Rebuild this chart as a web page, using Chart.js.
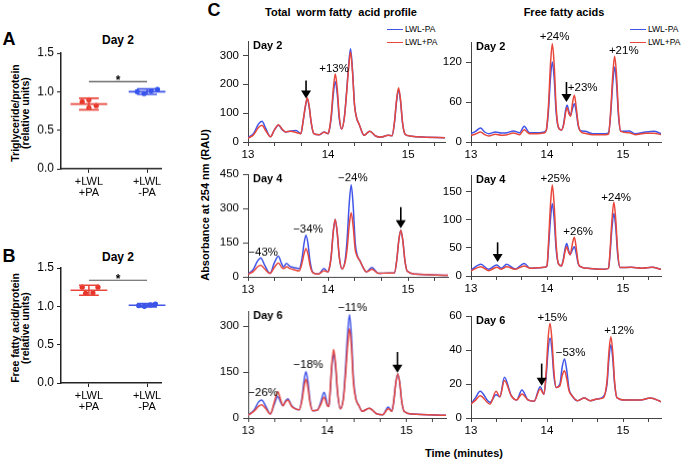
<!DOCTYPE html>
<html><head><meta charset="utf-8">
<script src="https://cdn.jsdelivr.net/npm/chart.js@4.4.1/dist/chart.umd.min.js"></script>
<style>
html,body{margin:0;padding:0;background:#fff;}
body{width:685px;height:461px;position:relative;overflow:hidden;font-family:"Liberation Sans",Arial,Helvetica,sans-serif;color:#000;}
canvas{position:absolute;}
.t{position:absolute;white-space:nowrap;transform:translate(-50%,-50%);}
.lg{position:absolute;height:0;border-top:1.5px solid;}
.lt{position:absolute;font-size:8.5px;transform:translateY(-50%);white-space:nowrap;}
</style></head><body>
<div class="t" style="left:9px;top:39px;font:bold 18px 'Liberation Sans',Arial,sans-serif">A</div>
<div class="t" style="left:9px;top:256px;font:bold 18px 'Liberation Sans',Arial,sans-serif">B</div>
<div class="t" style="left:214px;top:10px;font:bold 18px 'Liberation Sans',Arial,sans-serif">C</div>
<div class="t" style="left:118px;top:40px;font:bold 12px 'Liberation Sans',Arial,sans-serif">Day 2</div>
<div class="t" style="left:118px;top:257px;font:bold 12px 'Liberation Sans',Arial,sans-serif">Day 2</div>
<div class="t" style="left:20px;top:113px;transform:translate(-50%,-50%) rotate(-90deg);font:bold 10.5px/10px 'Liberation Sans',Arial,sans-serif;text-align:center">Triglyceride/protein<br>(relative units)</div>
<div class="t" style="left:20px;top:328px;transform:translate(-50%,-50%) rotate(-90deg);font:bold 10.5px/10px 'Liberation Sans',Arial,sans-serif;text-align:center">Free fatty acid/protein<br>(relative units)</div>
<div class="t" style="left:341px;top:12px;font:bold 11px 'Liberation Sans',Arial,sans-serif;white-space:pre">Total  worm fatty  acid profile</div>
<div class="t" style="left:564px;top:12px;font:bold 11px 'Liberation Sans',Arial,sans-serif">Free fatty acids</div>
<div class="t" style="left:205px;top:205px;transform:translate(-50%,-50%) rotate(-90deg);font:bold 11px 'Liberation Sans',Arial,sans-serif">Absorbance at 254 nm (RAU)</div>
<div class="t" style="left:464px;top:453px;font:bold 11px 'Liberation Sans',Arial,sans-serif">Time (minutes)</div>
<div class="lg" style="left:387px;top:29px;width:16px;border-color:#4055e8"></div>
<div class="lt" style="left:405px;top:29px">LWL-PA</div>
<div class="lg" style="left:387px;top:42px;width:16px;border-color:#e8473c"></div>
<div class="lt" style="left:405px;top:42px">LWL+PA</div>
<div class="lg" style="left:630px;top:29px;width:16px;border-color:#4055e8"></div>
<div class="lt" style="left:648px;top:29px">LWL-PA</div>
<div class="lg" style="left:630px;top:42px;width:16px;border-color:#e8473c"></div>
<div class="lt" style="left:648px;top:42px">LWL+PA</div>
<canvas id="cA"></canvas><canvas id="cB"></canvas>
<canvas id="c1"></canvas><canvas id="c2"></canvas><canvas id="c3"></canvas>
<canvas id="c4"></canvas><canvas id="c5"></canvas><canvas id="c6"></canvas>
<script>
// ---------- Panels A and B (relative units) ----------
const groupLabels = [['+LWL','+PA'], ['+LWL','-PA']];
const aRedVals  = [0.87, 0.895, 0.79, 0.82];
const aRedJit   = [-0.115, 0.0, 0.0, 0.126];
const aBlueVals = [1.0, 0.975, 1.01, 1.03];
const aBlueJit  = [-0.17, -0.05, 0.07, 0.18];
const aMeans = [0.84, 1.0];
const aSD    = [0.075, 0.035];
const aSig   = 1.13;
const bRedVals  = [1.25, 1.25, 1.17, 1.175];
const bRedJit   = [-0.115, 0.155, -0.057, 0.069];
const bBlueVals = [1.01, 1.0, 1.02, 1.03];
const bBlueJit  = [-0.144, -0.046, 0.057, 0.144];
const bMeans = [1.21, 1.015];
const bSD    = [0.065, 0.022];
const bSig   = 1.34;
const relTicks = [0, 0.5, 1.0, 1.5];

// ---------- Panel C chromatograms ----------
const timeTicks = [13, 13.333, 13.667, 14, 14.333, 14.667, 15, 15.333];
const timeLabels = ['13', '14', '15'];

const d2TotT = [13.00,13.07,13.13,13.175,13.22,13.28,13.33,13.38,13.43,13.47,13.53,13.60,13.66,13.69,13.715,13.74,13.765,13.79,13.82,13.89,13.95,14.00,14.015,14.04,14.065,14.09,14.115,14.14,14.17,14.205,14.23,14.255,14.28,14.305,14.33,14.355,14.39,14.45,14.52,14.60,14.66,14.75,14.80,14.83,14.855,14.88,14.905,14.93,14.96,15.02,15.18,15.46];
const d2TotB = [15,30,62,72,48,18,42,58,42,35,38,40,29,75,120,150,120,65,30,25,35,29,40,85,165,210,165,80,45,90,170,260,323,250,130,85,60,23,37,20,17,23,22,70,140,181,140,65,28,21,17,15];
const d2TotR = [13,25,50,58,40,18,42,60,43,35,37,33,29,76,122,153,122,66,30,25,34,29,42,95,183,236,183,88,45,88,165,252,312,242,128,85,60,23,37,20,17,23,22,72,146,188,146,67,28,21,17,15];

const d4TotT = [13.00,13.07,13.12,13.16,13.21,13.275,13.33,13.38,13.42,13.445,13.48,13.53,13.57,13.64,13.675,13.70,13.725,13.75,13.775,13.81,13.88,13.95,14.00,14.015,14.04,14.065,14.09,14.115,14.14,14.175,14.215,14.24,14.265,14.29,14.315,14.34,14.365,14.40,14.44,14.48,14.55,14.63,14.75,14.83,14.86,14.885,14.91,14.935,14.96,14.99,15.09,15.50];
const d4TotB = [12,35,70,83,50,15,62,90,58,44,58,45,41,36,80,145,182,145,70,20,12,36,22,35,90,195,252,195,90,35,75,170,320,403,310,150,95,70,40,22,41,15,17,17,75,160,204,160,75,25,12,7];
const d4TotR = [10,25,44,51,34,15,42,61,42,36,44,36,32,26,60,100,124,100,50,18,12,26,22,35,90,195,252,195,90,35,65,125,225,281,220,120,90,70,40,22,33,15,17,17,75,160,204,160,75,25,12,7];

const d6TotT = [13.00,13.08,13.13,13.17,13.22,13.28,13.33,13.375,13.41,13.44,13.47,13.50,13.55,13.60,13.645,13.68,13.705,13.73,13.755,13.78,13.815,13.87,13.915,13.96,14.00,14.02,14.035,14.055,14.08,14.105,14.13,14.165,14.205,14.23,14.255,14.28,14.305,14.33,14.36,14.40,14.44,14.53,14.63,14.70,14.77,14.815,14.84,14.865,14.89,14.915,14.94,14.97,15.07,15.50];
const d6TotB = [9,28,52,59,40,13,45,70,52,40,55,63,40,30,27,65,120,151,120,60,24,25,50,84,45,38,80,160,211,165,80,30,70,160,270,338,265,130,65,40,22,32,13,11,36,22,55,115,144,115,55,22,13,9];
const d6TotR = [9,24,38,43,32,13,52,86,60,40,52,59,38,30,27,58,100,127,100,52,24,25,43,68,40,38,85,170,224,175,85,30,65,140,232,292,230,115,62,40,22,32,13,11,30,22,55,115,144,115,55,22,13,9];

const d2FfaT = [13.00,13.06,13.125,13.18,13.235,13.32,13.40,13.475,13.56,13.64,13.70,13.77,13.87,13.96,13.99,14.02,14.045,14.07,14.095,14.12,14.15,14.19,14.22,14.245,14.265,14.29,14.31,14.335,14.36,14.385,14.41,14.44,14.50,14.60,14.77,14.81,14.84,14.865,14.89,14.915,14.94,14.97,15.08,15.16,15.30,15.41,15.50];
const d2FfaB = [12.5,16,21,15,12.5,15,13.5,14,16.5,14,23.5,14,14,15,17.5,48,95,120,95,45,22,18,28,48,55,45,40,50,57.5,45,25,17,16,12.5,12.5,14,45,88,112.5,88,40,16,16.5,12.5,15,16,12.5];
const d2FfaR = [10,12,15,11,9,11.5,10,11,13.5,11,18.5,12.5,12.5,13.5,17.5,56,115,147.5,115,53,22,18,26,44,51.5,42,38.5,58,70,52,27,16,13,11,11,12,50,100,128.5,100,45,16,14,11,13,13,11];

const d4FfaT = [13.00,13.13,13.23,13.34,13.40,13.47,13.58,13.70,13.78,13.89,13.97,14.00,14.02,14.045,14.07,14.095,14.12,14.15,14.19,14.215,14.24,14.26,14.285,14.305,14.335,14.36,14.385,14.41,14.44,14.54,14.72,14.81,14.83,14.855,14.88,14.905,14.93,14.96,15.11,15.25,15.38,15.50];
const d4FfaB = [10.7,20.8,12,19.6,13.6,20.8,12.5,22.5,13.6,14.8,15.4,18,50,100,129,100,48,22,18,30,50,58,45,38,47,52,40,22,16.6,13.6,12,13.6,40,86,111.5,86,38,15,15.4,13.6,15.4,12];
const d4FfaR = [9,16.6,9.5,15.4,12,16.6,12,17.8,13.6,14.8,15.4,18,60,125,162,125,58,22,18,28,45,52,42,38,58,69,50,24,16.6,13.6,12,13.6,46,100,132,100,44,15,15.4,13.6,15.4,12];

const d6FfaT = [13.00,13.06,13.12,13.25,13.33,13.38,13.44,13.53,13.60,13.67,13.75,13.83,13.91,13.96,13.99,14.015,14.04,14.065,14.09,14.12,14.17,14.20,14.23,14.26,14.29,14.33,14.40,14.49,14.57,14.66,14.74,14.79,14.815,14.84,14.865,14.89,14.92,15.03,15.23,15.36,15.50];
const d6FfaB = [8.2,12,15.7,9.2,13.7,12.5,23.9,13.1,10.6,16.5,10.6,9.8,18.4,14,25,40,47,40,25,18,20,30,34.7,28,17,13.1,10.2,11.8,10.2,11.2,12.5,20,35,43.1,35,20,12,10.6,10.6,11.8,9.6];
const d6FfaR = [8.2,10.5,13.1,8.2,15.7,12.5,22,13.1,10.6,14.1,10.6,9.8,17.1,14,28,47,55.7,46,28,18,19,25,27.8,23,16,13.1,10.2,11.8,10.2,11.2,11.8,22,39,47.8,39,21,12,10.6,10.6,11.8,9.6];

// annotations: [time, value, text]; arrows: [time, from value, to value]
const d2TotNotes = [[14.075, 255, '+13%']];
const d2TotArrow = [13.725, 213, 151];
const d4TotNotes = [[13.19, 108, '\u221243%'], [13.75, 209, '\u221234%'], [14.31, 432, '\u221224%']];
const d4TotArrow = [14.91, 305, 213];
const d6TotNotes = [[13.19, 82, '\u221226%'], [13.76, 173, '\u221218%'], [14.32, 362, '\u221211%']];
const d6TotArrow = [14.886, 216, 148];
const d2FfaNotes = [[14.10, 158, '+24%'], [14.47, 82, '+23%'], [15.01, 137, '+21%']];
const d2FfaArrow = [14.256, 90, 60];
const d4FfaNotes = [[14.11, 174, '+25%'], [14.41, 78, '+26%'], [14.91, 140, '+24%']];
const d4FfaArrow = [13.35, 60, 25];
const d6FfaNotes = [[14.07, 59, '+15%'], [14.31, 38.6, '\u221253%'], [14.95, 51, '+12%']];
const d6FfaArrow = [13.93, 32, 19];

const BLUE = '#4055e8', RED = '#e8473c';
const FAM = '"Liberation Sans", Arial, Helvetica, sans-serif';

const decor = {
  id: 'decor',
  afterDatasetsDraw(chart, args, o) {
    const {ctx, chartArea} = chart;
    const x = chart.scales.x, y = chart.scales.y;
    ctx.save();
    ctx.fillStyle = '#000';
    if (o.day) {
      ctx.font = 'bold 11px ' + FAM;
      ctx.textAlign = 'left'; ctx.textBaseline = 'middle';
      ctx.fillText(o.day, chartArea.left + 5, chartArea.top + 5);
    }
    (o.notes || []).forEach(([t, v, s]) => {
      ctx.font = '11.5px ' + FAM;
      ctx.textAlign = 'center'; ctx.textBaseline = 'middle';
      ctx.fillText(s, x.getPixelForValue(t), y.getPixelForValue(v));
    });
    if (o.arrow) {
      const [t, v1, v2] = o.arrow;
      const px = x.getPixelForValue(t), y1 = y.getPixelForValue(v1), y2 = y.getPixelForValue(v2);
      ctx.strokeStyle = '#000'; ctx.lineWidth = 1.6;
      ctx.beginPath(); ctx.moveTo(px, y1); ctx.lineTo(px, y2 - 6); ctx.stroke();
      ctx.beginPath(); ctx.moveTo(px - 5, y2 - 8); ctx.lineTo(px + 5, y2 - 8); ctx.lineTo(px, y2); ctx.closePath(); ctx.fill();
    }
    if (o.means) {
      const cols = [RED, BLUE];
      o.means.forEach((m, i) => {
        const cx = x.getPixelForValue(i);
        const w = x.getPixelForValue(i + 0.316) - cx, c = x.getPixelForValue(i + 0.17) - cx;
        const ym = y.getPixelForValue(m), yt = y.getPixelForValue(m + o.sd[i]), yb = y.getPixelForValue(m - o.sd[i]);
        ctx.strokeStyle = cols[i]; ctx.lineWidth = 1.6;
        ctx.beginPath();
        ctx.moveTo(cx - w, ym); ctx.lineTo(cx + w, ym);
        ctx.moveTo(cx, yt); ctx.lineTo(cx, yb);
        ctx.moveTo(cx - c, yt); ctx.lineTo(cx + c, yt);
        ctx.moveTo(cx - c, yb); ctx.lineTo(cx + c, yb);
        ctx.stroke();
      });
      const ys = y.getPixelForValue(o.sig);
      ctx.strokeStyle = '#555'; ctx.lineWidth = 1.2;
      ctx.beginPath(); ctx.moveTo(x.getPixelForValue(0), ys); ctx.lineTo(x.getPixelForValue(1), ys); ctx.stroke();
      ctx.font = 'bold 12px ' + FAM; ctx.textAlign = 'center'; ctx.textBaseline = 'middle';
      ctx.fillText('*', x.getPixelForValue(0.5), ys - 1);
    }
    ctx.restore();
  }
};

function place(cv, l, t, w, h) {
  cv.width = w; cv.height = h;
  cv.style.left = l + 'px'; cv.style.top = t + 'px';
  cv.style.width = w + 'px'; cv.style.height = h + 'px';
}

function chrom(id, area, times, blue, red, yMax, yStep, tMax, notes, arrow, day) {
  const PL = 45, PT = 16, PR = 12, PB = 26;
  const cv = document.getElementById(id);
  place(cv, area.l - PL, area.t - PT, area.r - area.l + PL + PR, area.b - area.t + PT + PB);
  const ds = (vals, col, lab, ord) => ({
    label: lab, data: times.map((t, i) => ({x: t, y: vals[i]})),
    borderColor: col, borderWidth: 1.5, pointRadius: 0, fill: false,
    cubicInterpolationMode: 'monotone', order: ord
  });
  new Chart(cv, {
    type: 'line',
    data: {datasets: [ds(blue, BLUE, 'LWL-PA', 1), ds(red, RED, 'LWL+PA', 0)]},
    options: {
      responsive: false, animation: false, devicePixelRatio: 1,
      layout: {padding: {top: PT, right: PR, left: 0, bottom: 0}},
      plugins: {legend: {display: false}, tooltip: {enabled: false}, decor: {notes, arrow, day}},
      scales: {
        x: {
          type: 'linear', min: 13, max: tMax,
          afterFit: s => { s.height = PB; },
          afterBuildTicks: s => { s.ticks = timeTicks.map(v => ({value: v})); },
          ticks: {autoSkip: false, maxRotation: 0, padding: 2, color: '#000', font: {size: 11.5, family: FAM},
            callback: v => { const r = Math.round(v); return (Math.abs(v - r) < 1e-6 && timeLabels.includes(String(r))) ? String(r) : ''; }},
          grid: {display: true, drawOnChartArea: false, drawTicks: true, tickLength: 4, tickColor: '#444'},
          border: {display: true, color: '#444', width: 1}
        },
        y: {
          min: 0, max: yMax,
          afterFit: s => { s.width = PL; },
          ticks: {stepSize: yStep, includeBounds: false, padding: 4, color: '#000', font: {size: 11.5, family: FAM}},
          grid: {display: true, drawOnChartArea: false, drawTicks: true, tickLength: 5, tickColor: '#444'},
          border: {display: true, color: '#444', width: 1}
        }
      }
    },
    plugins: [decor]
  });
}

function dots(id, area, redV, redJ, blueV, blueJ, means, sd, sig) {
  const PL = 41, PT = 14, PR = 8, PB = 40;
  const cv = document.getElementById(id);
  place(cv, area.l - PL, area.t - PT, area.r - area.l + PL + PR, area.b - area.t + PT + PB);
  new Chart(cv, {
    type: 'scatter',
    data: {datasets: [
      {data: redV.map((v, i) => ({x: 0 + redJ[i], y: v})), backgroundColor: '#e8362b', borderColor: '#e8362b', pointRadius: 2.6, borderWidth: 0},
      {data: blueV.map((v, i) => ({x: 1 + blueJ[i], y: v})), backgroundColor: '#2b54f0', borderColor: '#2b54f0', pointRadius: 2.6, borderWidth: 0}
    ]},
    options: {
      responsive: false, animation: false, devicePixelRatio: 1,
      layout: {padding: {top: PT, right: PR, left: 0, bottom: 0}},
      plugins: {legend: {display: false}, tooltip: {enabled: false}, decor: {means, sd, sig}},
      scales: {
        x: {
          type: 'linear', min: -0.48, max: 1.24,
          afterFit: s => { s.height = PB; },
          afterBuildTicks: s => { s.ticks = [{value: 0}, {value: 1}]; },
          ticks: {autoSkip: false, maxRotation: 0, padding: 3, color: '#000', font: {size: 11, family: FAM, lineHeight: 1.0},
            callback: v => groupLabels[Math.round(v)]},
          grid: {display: true, drawOnChartArea: false, drawTicks: true, tickLength: 4, tickColor: '#222'},
          border: {display: true, color: '#222', width: 1.5}
        },
        y: {
          min: 0, max: 1.5,
          afterFit: s => { s.width = PL; },
          afterBuildTicks: s => { s.ticks = relTicks.map(v => ({value: v})); },
          ticks: {padding: 3, color: '#000', font: {size: 12, family: FAM}, callback: v => Number(v).toFixed(1)},
          grid: {display: true, drawOnChartArea: false, drawTicks: true, tickLength: 4, tickColor: '#222'},
          border: {display: true, color: '#222', width: 1.5}
        }
      }
    },
    plugins: [decor]
  });
}

dots('cA', {l: 61, r: 161, t: 53.3, b: 169}, aRedVals, aRedJit, aBlueVals, aBlueJit, aMeans, aSD, aSig);
dots('cB', {l: 61, r: 161, t: 268.3, b: 383.3}, bRedVals, bRedJit, bBlueVals, bBlueJit, bMeans, bSD, bSig);

chrom('c1', {l: 248, r: 445, t: 40.5, b: 141.7}, d2TotT, d2TotB, d2TotR, 350, 100, 15.46, d2TotNotes, d2TotArrow, 'Day 2');
chrom('c2', {l: 248, r: 448, t: 174, b: 276.9}, d4TotT, d4TotB, d4TotR, 450, 150, 15.5, d4TotNotes, d4TotArrow, 'Day 4');
chrom('c3', {l: 248, r: 445.5, t: 310.6, b: 418.3}, d6TotT, d6TotB, d6TotR, 350, 150, 15.5, d6TotNotes, d6TotArrow, 'Day 6');
chrom('c4', {l: 470.5, r: 660.5, t: 41.7, b: 141.7}, d2FfaT, d2FfaB, d2FfaR, 150, 60, 15.5, d2FfaNotes, d2FfaArrow, 'Day 2');
chrom('c5', {l: 470.5, r: 660.5, t: 175, b: 276}, d4FfaT, d4FfaB, d4FfaR, 180, 50, 15.5, d4FfaNotes, d4FfaArrow, 'Day 4');
chrom('c6', {l: 470.5, r: 660.5, t: 315.7, b: 417.8}, d6FfaT, d6FfaB, d6FfaR, 60, 20, 15.5, d6FfaNotes, d6FfaArrow, 'Day 6');
</script>
</body></html>
